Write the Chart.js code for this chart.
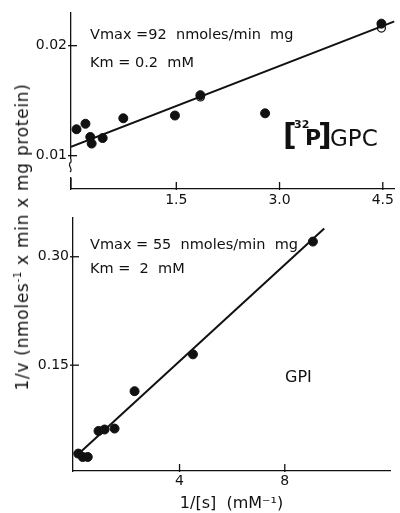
<!DOCTYPE html>
<html>
<head>
<meta charset="utf-8">
<script src="https://cdn.jsdelivr.net/npm/chart.js@4/dist/chart.umd.min.js"></script>
<style>
  html, body { margin: 0; padding: 0; background: #fff; }
  #wrap { position: relative; width: 400px; height: 513px; overflow: hidden; font-family: "DejaVu Sans", sans-serif; }
  #topBox { position: absolute; left: 0; top: 0; width: 400px; height: 210px; }
  #botBox { position: absolute; left: 0; top: 200px; width: 400px; height: 313px; }
  #yTitle {
    position: absolute; left: 22px; top: 237px; white-space: nowrap;
    transform: translate(-50%, -50%) rotate(-90deg);
    font-size: 17px; letter-spacing: 0.7px; color: #111;
  }
</style>
</head>
<body>
<div id="wrap">
  <div id="topBox"><canvas id="topChart"></canvas></div>
  <div id="botBox"><canvas id="botChart"></canvas></div>
  <div id="yTitle">1/v (nmoles<sup style="font-size:10px">-1</sup> x min x mg protein)</div>
</div>
<script>
/* ── 상단: [32P]GPC ── */
const gpcX       = [0.05, 0.18, 0.25, 0.27, 0.43, 0.73, 1.48, 1.85, 2.79, 4.48];
const gpcY       = [0.0124, 0.0129, 0.0117, 0.0111, 0.0116, 0.0134, 0.01365, 0.0155, 0.01385, 0.0220];
const gpcOpenX   = [1.85, 4.48];
const gpcOpenY   = [0.01534, 0.0216];
const gpcFitX    = [-0.03, 4.67];
const gpcFitY    = [0.01081, 0.02221];
const gpcXTicks  = [1.5, 3.0, 4.5];
const gpcXLabels = ['1.5', '3.0', '4.5'];
const gpcYTicks  = [0.01, 0.02];
const gpcYLabels = ['0.01', '0.02'];

/* ── 하단: GPI ── */
const gpiX       = [0.15, 0.32, 0.51, 0.92, 1.15, 1.53, 2.29, 4.51, 9.07];
const gpiY       = [0.0277, 0.023, 0.023, 0.059, 0.061, 0.0623, 0.114, 0.165, 0.321];
const gpiFitX    = [0.03, 9.5];
const gpiFitY    = [0.023, 0.339];
const gpiXTicks  = [4, 8];
const gpiXLabels = ['4', '8'];
const gpiYTicks  = [0.15, 0.30];
const gpiYLabels = ['0.15', '0.30'];

const FONT = '"DejaVu Sans", sans-serif';
const INK  = '#111';

const pts = (xs, ys) => xs.map((x, i) => ({ x, y: ys[i] }));

/* 축을 가로지르는 짧은 눈금 */
const crossTicks = {
  id: 'crossTicks',
  afterDraw(chart) {
    const { ctx, chartArea } = chart;
    const xs = chart.scales.x, ys = chart.scales.y;
    ctx.save();
    ctx.strokeStyle = INK;
    ctx.lineWidth = 1.3;
    xs.ticks.forEach(t => {
      const px = xs.getPixelForValue(t.value);
      ctx.beginPath(); ctx.moveTo(px, chartArea.bottom + 1); ctx.lineTo(px, chartArea.bottom - 7); ctx.stroke();
    });
    ys.ticks.forEach(t => {
      const py = ys.getPixelForValue(t.value);
      ctx.beginPath(); ctx.moveTo(chartArea.left - 3, py); ctx.lineTo(chartArea.left + 6, py); ctx.stroke();
    });
    ctx.restore();
  }
};

/* 본문 주석 글자 */
function notes(list) {
  return {
    id: 'notes',
    afterDraw(chart) {
      const { ctx } = chart;
      ctx.save();
      ctx.fillStyle = INK;
      ctx.textBaseline = 'alphabetic';
      list.forEach(n => {
        ctx.font = n.font;
        ctx.fillText(n.text, n.x, n.y);
      });
      ctx.restore();
    }
  };
}

/* 축 끊김 표시 */
const axisBreak = {
  id: 'axisBreak',
  afterDraw(chart) {
    const { ctx, chartArea } = chart;
    const x = chartArea.left, b = chartArea.bottom;
    ctx.save();
    ctx.fillStyle = '#fff';
    ctx.fillRect(x - 3, b - 30, 6, 18);
    ctx.strokeStyle = INK;
    ctx.lineWidth = 1.2;
    ctx.beginPath();
    ctx.moveTo(x, b - 30);
    ctx.lineTo(x, b - 27);
    ctx.bezierCurveTo(x - 5, b - 24, x + 3, b - 20, x - 1, b - 17);
    ctx.stroke();
    ctx.beginPath();
    ctx.moveTo(x, b - 11);
    ctx.lineTo(x, b);
    ctx.stroke();
    ctx.restore();
  }
};

function axis(cfg) {
  return {
    type: 'linear',
    min: cfg.min, max: cfg.max,
    afterBuildTicks: s => { s.ticks = cfg.ticks.map(v => ({ value: v })); },
    afterFit: s => { if (cfg.width) s.width = cfg.width; if (cfg.height) s.height = cfg.height; },
    grid: { display: false, drawTicks: false },
    border: { display: true, color: INK, width: 1.3 },
    ticks: {
      color: INK, padding: cfg.pad, autoSkip: false, maxRotation: 0,
      font: { family: FONT, size: 14 },
      callback: v => cfg.labels[cfg.ticks.indexOf(v)] ?? ''
    },
    title: cfg.title || { display: false }
  };
}

function makeChart(id, datasets, scales, padding, plugins) {
  return new Chart(document.getElementById(id), {
    type: 'scatter',
    data: { datasets },
    options: {
      responsive: true,
      maintainAspectRatio: false,
      animation: false,
      layout: { padding },
      plugins: { legend: { display: false }, tooltip: { enabled: false } },
      scales
    },
    plugins
  });
}

makeChart('topChart', [
  { data: pts(gpcFitX, gpcFitY), showLine: true, borderColor: INK, borderWidth: 2, pointRadius: 0 },
  { data: pts(gpcX, gpcY), pointRadius: 4.5, backgroundColor: INK, borderColor: INK },
  { data: pts(gpcOpenX, gpcOpenY), pointRadius: 4, backgroundColor: '#fff', borderColor: INK, borderWidth: 1.3 },
], {
  x: axis({ min: -0.03, max: 4.67, ticks: gpcXTicks, labels: gpcXLabels, height: 21, pad: 3 }),
  y: axis({ min: 0.00697, max: 0.02297, ticks: gpcYTicks, labels: gpcYLabels, width: 71, pad: 4 }),
}, { top: 13, right: 0, bottom: 0, left: 0 }, [crossTicks, axisBreak, notes([
  { text: 'Vmax =92  nmoles/min  mg', x: 90, y: 39, font: `14.5px ${FONT}` },
  { text: 'Km = 0.2  mM', x: 90, y: 67, font: `14.5px ${FONT}` },
  { text: '[', x: 283, y: 145, font: `bold 30px ${FONT}` },
  { text: '32', x: 294, y: 128, font: `bold 11px ${FONT}` },
  { text: 'P', x: 305, y: 145, font: `bold 22px ${FONT}` },
  { text: ']', x: 318, y: 145, font: `bold 30px ${FONT}` },
  { text: 'GPC', x: 330, y: 146, font: `23px ${FONT}` },
])]);

makeChart('botChart', [
  { data: pts(gpiFitX, gpiFitY), showLine: true, borderColor: INK, borderWidth: 2, pointRadius: 0 },
  { data: pts(gpiX, gpiY), pointRadius: 4.5, backgroundColor: INK, borderColor: INK },
], {
  x: axis({ min: -0.05, max: 12, ticks: gpiXTicks, labels: gpiXLabels, height: 42, pad: 2,
    title: { display: true, text: '1/[s]  (mM⁻¹)', color: INK, font: { family: FONT, size: 16 }, padding: { top: 2, bottom: 0 } } }),
  y: axis({ min: 0.0036, max: 0.3536, ticks: gpiYTicks, labels: gpiYLabels, width: 73, pad: 4 }),
}, { top: 18, right: 10, bottom: 0, left: 0 }, [crossTicks, notes([
  { text: 'Vmax = 55  nmoles/min  mg', x: 90, y: 49, font: `14.5px ${FONT}` },
  { text: 'Km =  2  mM', x: 90, y: 73, font: `14.5px ${FONT}` },
  { text: 'GPI', x: 285, y: 182, font: `16px ${FONT}` },
])]);
</script>
</body>
</html>
